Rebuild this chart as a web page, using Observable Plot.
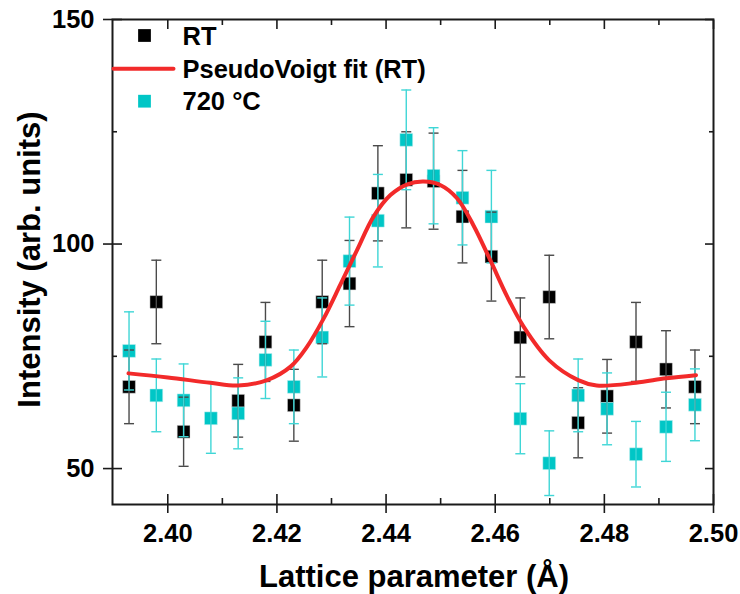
<!DOCTYPE html>
<html>
<head>
<meta charset="utf-8">
<script src="https://cdn.jsdelivr.net/npm/d3@7"></script>
<script src="https://cdn.jsdelivr.net/npm/@observablehq/plot@0.6"></script>
<style>
  html, body { margin: 0; padding: 0; background: #fff; }
  #chart svg { display: block; }
</style>
</head>
<body>
<div id="chart"></div>
<script>
// ---- Data ----
const seriesNames = ["RT", "PseudoVoigt fit (RT)", "720 °C"];
const xAxisTitle = "Lattice parameter (Å)";
const yAxisTitle = "Intensity (arb. units)";

const latticeX = [2.3929, 2.3979, 2.4029, 2.4079, 2.4129, 2.4179, 2.4231, 2.4283, 2.4333, 2.4385,
                  2.4437, 2.4487, 2.4540, 2.4593, 2.4646, 2.4699, 2.4752, 2.4805, 2.4858, 2.4913, 2.4966];

const rtValues = [68.2, 87.1, 58.2, null, 65.1, 78.2, 64.1, 87.1, 91.2, 111.3,
                  114.3, 114.0, 106.1, 97.2, 79.2, 88.2, 60.2, 66.1, 78.2, 72.1, 68.2];
const rtErrors = [8.2, 9.3, 7.7, null, 8.1, 8.8, 8.0, 9.3, 9.6, 10.6,
                  10.7, 10.7, 10.3, 9.9, 8.8, 9.3, 7.8, 8.2, 8.8, 8.6, 8.2];

const hotValues = [76.2, 66.3, 65.2, 61.2, 62.3, 74.2, 68.2, 79.2, 96.2, 105.2,
                   123.2, 115.2, 110.3, 106.1, 61.1, 51.2, 66.3, 63.3, 53.2, 59.3, 64.2];
const hotErrors = [8.7, 8.1, 8.1, 7.8, 7.9, 8.6, 8.2, 8.8, 9.8, 10.3,
                   11.1, 10.7, 10.5, 10.3, 7.8, 7.2, 8.1, 8.0, 7.3, 7.7, 8.0];

// Fit curve
const fitX = [2.3928, 2.4000, 2.4078, 2.4129, 2.4182, 2.4225, 2.4255, 2.4286, 2.4316, 2.4347,
              2.4377, 2.4408, 2.4439, 2.4469, 2.4500, 2.4530, 2.4560, 2.4591, 2.4622, 2.4652,
              2.4699, 2.4752, 2.4786, 2.4858, 2.4913, 2.4968];
const fitY = [71.2, 70.3, 69.1, 68.5, 69.7, 72.7, 77.1, 83.5, 90.9, 98.7,
              106.1, 110.9, 113.3, 113.9, 113.1, 110.2, 104.2, 96.4, 88.3, 81.6,
              74.1, 69.7, 68.5, 69.1, 70.1, 70.8];

const xMajorTicks = [2.40, 2.42, 2.44, 2.46, 2.48, 2.50];
const xMinorTicks = [2.41, 2.43, 2.45, 2.47, 2.49];
const yMajorTicks = [50, 100, 150];
const yMinorTicks = [75, 125];

// ---- Tables built from the arrays ----
const rtData = latticeX.map((x, i) => ({x, v: rtValues[i], e: rtErrors[i]})).filter(d => d.v != null);
const hotData = latticeX.map((x, i) => ({x, v: hotValues[i], e: hotErrors[i]}));
const fitData = fitX.map((x, i) => ({x, v: fitY[i]}));

// ---- Styles ----
const RED = "#f22a2a";
const CYAN = "#00c6c6";
const CYAN_BAR = "#3fd6d6";
const BLACK_BAR = "#4a4a4a";
const AXIS = "#1a1a1a";
const FS = 25.5;

const capSymbol = { draw(ctx) { ctx.moveTo(-5, 0); ctx.lineTo(5, 0); } };
const lineShape = { draw(ctx, l) { ctx.moveTo(0, 0); ctx.lineTo(0, -l); } };
const blank = () => "";

function errorMarks(data, color) {
  return [
    Plot.ruleX(data, {x: "x", y1: d => d.v - d.e, y2: d => d.v + d.e, stroke: color, strokeWidth: 1.4}),
    Plot.dot(data, {x: "x", y: d => d.v + d.e, symbol: capSymbol, stroke: color, fill: "none", strokeWidth: 1.4}),
    Plot.dot(data, {x: "x", y: d => d.v - d.e, symbol: capSymbol, stroke: color, fill: "none", strokeWidth: 1.4})
  ];
}

const textStyle = {fontSize: FS, fontWeight: "bold", fill: "#000", lineAnchor: "middle"};

const chart = Plot.plot({
  width: 740,
  height: 594,
  marginLeft: 112,
  marginRight: 27,
  marginTop: 19,
  marginBottom: 90,
  x: {domain: [2.38987, 2.50]},
  y: {domain: [42, 150]},
  style: {fontFamily: "'Liberation Sans', Arial, sans-serif", fontWeight: "bold", background: "#fff", color: "#000"},
  marks: [
    // data squares
    Plot.dot(rtData, {x: "x", y: "v", symbol: "square", r: 7.2, fill: "#000", stroke: "#ddd", strokeWidth: 0.5}),
    Plot.dot(hotData, {x: "x", y: "v", symbol: "square", r: 7.2, fill: CYAN, stroke: "#bfeeee", strokeWidth: 0.5}),
    // error bars
    ...errorMarks(rtData, BLACK_BAR),
    ...errorMarks(hotData, CYAN_BAR),
    // fit line
    Plot.line(fitData, {x: "x", y: "v", stroke: RED, strokeWidth: 4, curve: "catmull-rom"}),

    // frame
    Plot.frame({stroke: AXIS, strokeWidth: 2}),

    // bottom axis
    Plot.axisX(xMajorTicks, {anchor: "bottom", tickSize: 9, tickPadding: 10, tickFormat: d => d.toFixed(2),
      fontSize: FS, stroke: AXIS, strokeWidth: 1.6, label: null}),
    Plot.axisX(xMajorTicks, {anchor: "bottom", tickSize: -10, tickFormat: blank, stroke: AXIS, strokeWidth: 1.6, label: null}),
    Plot.axisX(xMinorTicks, {anchor: "bottom", tickSize: -6, tickFormat: blank, stroke: AXIS, strokeWidth: 1.6, label: null}),
    // top axis (inward ticks)
    Plot.axisX(xMajorTicks, {anchor: "top", tickSize: -9, tickFormat: blank, stroke: AXIS, strokeWidth: 1.6, label: null}),
    Plot.axisX(xMinorTicks, {anchor: "top", tickSize: -5, tickFormat: blank, stroke: AXIS, strokeWidth: 1.6, label: null}),
    // left axis
    Plot.axisY(yMajorTicks, {anchor: "left", tickSize: 9, tickPadding: 9, fontSize: FS, stroke: AXIS, strokeWidth: 1.6, label: null}),
    Plot.axisY(yMajorTicks, {anchor: "left", tickSize: -10, tickFormat: blank, stroke: AXIS, strokeWidth: 1.6, label: null}),
    Plot.axisY(yMinorTicks, {anchor: "left", tickSize: -5, tickFormat: blank, stroke: AXIS, strokeWidth: 1.6, label: null}),
    // right axis (inward ticks)
    Plot.axisY(yMajorTicks, {anchor: "right", tickSize: -9, tickFormat: blank, stroke: AXIS, strokeWidth: 1.6, label: null}),
    Plot.axisY(yMinorTicks, {anchor: "right", tickSize: -5, tickFormat: blank, stroke: AXIS, strokeWidth: 1.6, label: null}),

    // axis titles
    Plot.text([xAxisTitle], {frameAnchor: "bottom", dx: 1, dy: 73, textAnchor: "middle", ...textStyle, fontSize: 31}),
    Plot.text([yAxisTitle], {frameAnchor: "left", rotate: -90, dx: -82, dy: -2.5, textAnchor: "middle", ...textStyle, fontSize: 31}),

    // legend
    Plot.dot([seriesNames[0]], {frameAnchor: "top-left", dx: 32, dy: 16, symbol: "square", r: 7.2, fill: "#000"}),
    Plot.vector([seriesNames[1]], {frameAnchor: "top-left", dx: 1, dy: 49.3, length: 60, rotate: 90, anchor: "start",
      shape: lineShape, stroke: RED, strokeWidth: 4}),
    Plot.dot([seriesNames[2]], {frameAnchor: "top-left", dx: 32, dy: 81.7, symbol: "square", r: 7.2, fill: CYAN}),
    Plot.text([seriesNames[0]], {frameAnchor: "top-left", dx: 70, dy: 17.8, textAnchor: "start", ...textStyle}),
    Plot.text([seriesNames[1]], {frameAnchor: "top-left", dx: 70, dy: 50.1, textAnchor: "start", ...textStyle}),
    Plot.text([seriesNames[2]], {frameAnchor: "top-left", dx: 70, dy: 82.8, textAnchor: "start", ...textStyle})
  ]
});

document.getElementById("chart").appendChild(chart);
</script>
</body>
</html>
